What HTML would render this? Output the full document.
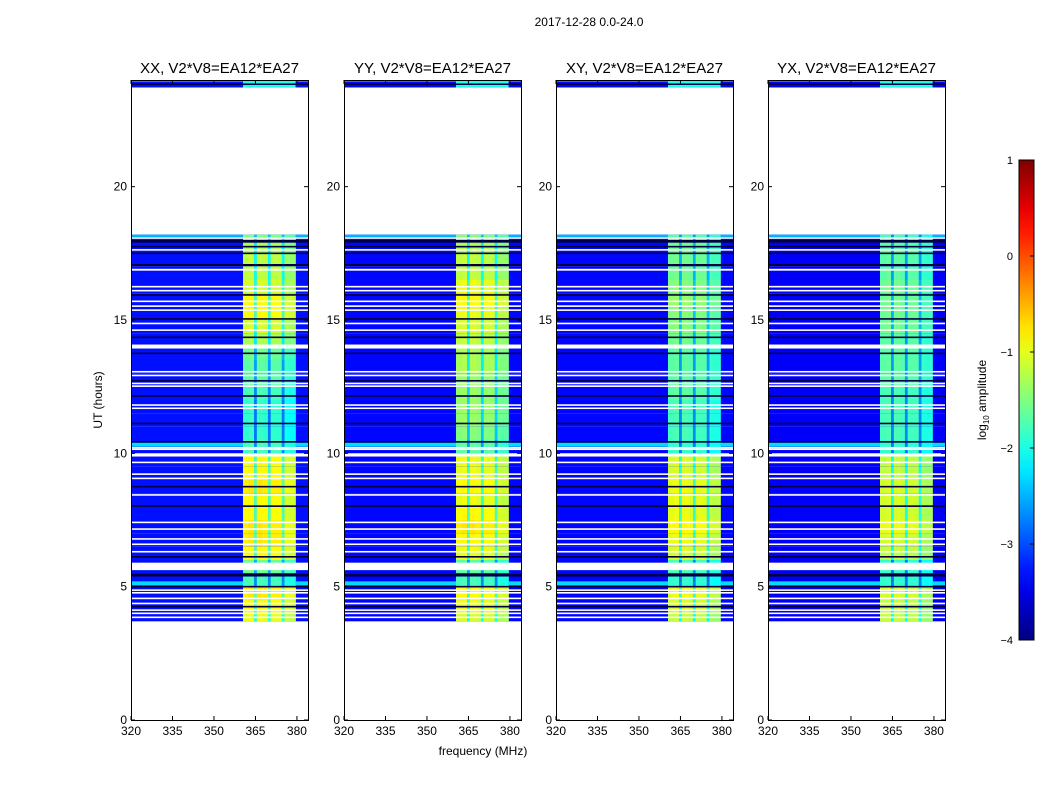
<!DOCTYPE html>
<html><head><meta charset="utf-8"><style>
body{margin:0;background:#fff}
svg text{font-family:"Liberation Sans",sans-serif;fill:#000}
</style></head><body>
<svg id="fig" width="1050" height="800" viewBox="0 0 1050 800" xmlns="http://www.w3.org/2000/svg">
<rect width="1050" height="800" fill="#fff"/>
<text x="589" y="26" font-size="12" text-anchor="middle">2017-12-28 0.0-24.0</text>
<text x="483" y="755" font-size="12" text-anchor="middle">frequency (MHz)</text>
<text x="102" y="400" font-size="12" text-anchor="middle" transform="rotate(-90 102 400)">UT (hours)</text>
<g id="panels"></g>
<g id="cbar"></g>
</svg>
<script>
const panelTitles = ["XX, V2*V8=EA12*EA27","YY, V2*V8=EA12*EA27","XY, V2*V8=EA12*EA27","YX, V2*V8=EA12*EA27"];
const xTicks = [320,335,350,365,380];
const yTicks = [0,5,10,15,20];
const cbTicks = [1,0,-1,-2,-3,-4];
const rowStarts = [3.5,4,4.5,5,5.5,6,6.5,7,7.5,8,8.5,9,9.5,10,10.5,11,11.5,12,12.5,13,13.5,14,14.5,15,15.5,16,16.5,17,17.5,18];
const bandXX = [-1.0,-0.9,-0.8,-1.8,-1.6,-0.9,-0.8,-0.8,-0.9,-0.9,-0.8,-0.9,-0.9,-1.8,-1.9,-1.9,-1.9,-1.8,-1.7,-1.7,-1.6,-1.3,-1.1,-0.9,-0.9,-1.1,-1.2,-1.2,-1.3,-1.5];
const bandYY = [-1.1,-1.0,-0.9,-1.8,-1.7,-1.0,-0.9,-0.8,-0.9,-1.0,-0.9,-1.0,-1.0,-1.7,-1.5,-1.4,-1.4,-1.4,-1.4,-1.3,-1.3,-1.2,-1.1,-1.0,-0.9,-1.0,-1.2,-1.2,-1.3,-1.5];
const bandXY = [-1.2,-1.1,-1.0,-1.9,-1.8,-1.1,-1.0,-0.9,-1.0,-1.0,-1.0,-1.1,-1.1,-1.9,-1.8,-1.8,-1.8,-1.7,-1.7,-1.7,-1.7,-1.6,-1.5,-1.5,-1.4,-1.5,-1.6,-1.6,-1.6,-1.7];
const bandYX = [-1.2,-1.2,-1.1,-1.9,-1.9,-1.2,-1.1,-1.0,-1.1,-1.1,-1.1,-1.2,-1.2,-1.9,-1.8,-1.8,-1.8,-1.8,-1.7,-1.7,-1.7,-1.7,-1.6,-1.6,-1.6,-1.6,-1.7,-1.7,-1.7,-1.8];
const bgLevel = [-3.3,-3.35,-3.35,-3.4];
const bandFreqs = [360.5,361.5,362.5,363.5,364.5,365.5,366.5,367.5,368.5,369.5,370.5,371.5,372.5,373.5,374.5,375.5,376.5,377.5,378.5];
const bandAdj = [0,0,0.05,0.05,-0.9,0.05,0.05,0,0,-0.9,0,0,0,0,-0.9,-0.15,-0.2,-0.2,-0.2];
const gapStarts = [18.05,17.6,16.85,16.22,16.07,15.67,15.49,15.34,14.84,14.59,13.93,13.03,12.89,12.59,12.49,11.78,11.66,10.19,10.13,9.88,9.63,9.19,9.03,8.41,7.38,7.13,6.76,6.56,6.28,5.62,4.84,4.74,4.53,4.34,4.09,3.97,3.82];
const gapEnds   = [18.1,17.66,16.92,16.28,16.13,15.73,15.55,15.4,14.9,14.65,14.08,13.09,12.95,12.65,12.55,11.84,11.72,10.24,10.18,10.0,9.69,9.25,9.09,8.47,7.44,7.19,6.82,6.62,6.34,5.9,4.9,4.8,4.59,4.4,4.15,4.03,3.88];
const darkStarts = [17.9,17.72,17.47,17.02,15.91,15.01,14.32,13.72,12.69,12.12,11.09,10.4,8.72,7.99,6.09,5.38,4.97,4.22,23.82];
const darkEnds   = [18.0,17.78,17.53,17.1,15.97,15.07,14.38,13.78,12.75,12.18,11.15,10.46,8.78,8.05,6.15,5.5,5.03,4.28,23.87];
const brightStarts = [10.25,5.05,18.1];
const brightEnds = [10.4,5.2,18.2];
const brightLevel = [-2.3,-2.3,-2.5];
const dataStart = 3.7, dataEnd = 18.2, topStart = 23.72, topEnd = 23.95;

const NS="http://www.w3.org/2000/svg";
const lefts=[131,344,556,768], PW=177, TOP=80, BOT=720;
function xS(p,f){return lefts[p]+(f-320)*PW/64;}
function yS(h){return BOT-h*(BOT-TOP)/24;}
function clamp(v){return Math.max(0,Math.min(1,v));}
function jet(v){const t=clamp((v+4)/5);
 const r=clamp(1.5-Math.abs(4*t-3)),g=clamp(1.5-Math.abs(4*t-2)),b=clamp(1.5-Math.abs(4*t-1));
 return `rgb(${Math.round(r*255)},${Math.round(g*255)},${Math.round(b*255)})`;}
function mk(tag,attrs,parent){const e=document.createElementNS(NS,tag);for(const k in attrs)e.setAttribute(k,attrs[k]);parent.appendChild(e);return e;}
const bands=[bandXX,bandYY,bandXY,bandYX];
const root=document.getElementById('panels');
for(let p=0;p<4;p++){
 const g=mk('g',{},root);
 
 
 const hm=mk('g',{},g);
 
 
 rowStarts.forEach((h0,i)=>{
  const a=Math.max(h0,dataStart), b=Math.min(h0+0.5,dataEnd); if(b<=a) return;
  const y=yS(b), hh=yS(a)-yS(b);
  const r=mk('rect',{x:lefts[p],y:y,width:PW,height:hh,fill:jet(bgLevel[p])},hm);
  
  
  bandFreqs.forEach((f,j)=>{
   const c=mk('rect',{x:xS(p,f),y:y,width:xS(p,f+1)-xS(p,f)+0.3,height:hh,fill:jet(bands[p][i]+bandAdj[j])},hm);
   
   
  });
 });
 const ts=mk('rect',{x:lefts[p],y:yS(topEnd),width:PW,height:yS(topStart)-yS(topEnd),fill:jet(bgLevel[p])},hm);
 
 
 const tb=mk('rect',{x:xS(p,360.5),y:yS(topEnd),width:xS(p,379.5)-xS(p,360.5),height:yS(topStart)-yS(topEnd),fill:jet(-2.0)},hm);
 
 
 brightStarts.forEach((s,k)=>{
  const r=mk('rect',{x:lefts[p],y:yS(brightEnds[k]),width:xS(p,360.5)-lefts[p],height:yS(s)-yS(brightEnds[k]),fill:jet(brightLevel[k])},hm);
  
  
  const r2=mk('rect',{x:xS(p,379.5),y:yS(brightEnds[k]),width:lefts[p]+PW-xS(p,379.5),height:yS(s)-yS(brightEnds[k]),fill:jet(brightLevel[k])},hm);
  
  
 });
 darkStarts.forEach((s,k)=>{
  const r=mk('rect',{x:lefts[p],y:yS(darkEnds[k]),width:PW,height:Math.max(1.5,yS(s)-yS(darkEnds[k])),fill:'#000040'},hm);
  
  
 });
 gapStarts.forEach((s,k)=>{
  const r=mk('rect',{x:lefts[p],y:yS(gapEnds[k]),width:PW,height:Math.max(1.5,yS(s)-yS(gapEnds[k])),fill:'#fff'},hm);
  
  
 });
 const fr=mk('rect',{x:lefts[p]+0.5,y:TOP+0.5,width:PW,height:BOT-TOP,fill:'none',stroke:'#000','stroke-width':1},g);
 
 
 const t=mk('text',{x:lefts[p]+PW/2,y:73,'font-size':15,'text-anchor':'middle'},g);
 t.textContent=panelTitles[p];
 
 
 xTicks.forEach(v=>{const x=xS(p,v);
  mk('line',{x1:x,x2:x,y1:BOT,y2:BOT-4,stroke:'#000'},g);
  mk('line',{x1:x,x2:x,y1:TOP,y2:TOP+4,stroke:'#000'},g);
  const l=mk('text',{x:x,y:BOT+15,'font-size':12,'text-anchor':'middle'},g);l.textContent=v;
  
  });
 yTicks.forEach(v=>{const y=yS(v);
  mk('line',{x1:lefts[p],x2:lefts[p]+4,y1:y,y2:y,stroke:'#000'},g);
  mk('line',{x1:lefts[p]+PW,x2:lefts[p]+PW-4,y1:y,y2:y,stroke:'#000'},g);
  const l=mk('text',{x:lefts[p]-4,y:y+4,'font-size':12,'text-anchor':'end'},g);l.textContent=v;
  
  });
}
const cb=document.getElementById('cbar');
const defs=mk('defs',{},cb);
const lg=mk('linearGradient',{id:'jetg',x1:0,y1:1,x2:0,y2:0},defs);
for(let i=0;i<=20;i++){mk('stop',{offset:i/20,'stop-color':jet(-4+5*i/20)},lg);}
const cbTop=160,cbBot=640,cbX=1019,cbW=15;
mk('rect',{x:cbX,y:cbTop,width:cbW,height:cbBot-cbTop,fill:'url(#jetg)',stroke:'#000'},cb);
cbTicks.forEach(v=>{const y=cbBot-(v+4)/5*(cbBot-cbTop);
 mk('line',{x1:cbX+cbW,x2:cbX+cbW-4,y1:y,y2:y,stroke:'#000'},cb);
 const l=mk('text',{x:1013,y:y+4,'font-size':11,'text-anchor':'end'},cb);
 l.textContent=v<0?'\u2212'+(-v):String(v);
 
 });
const cl=mk('text',{x:986,y:400,'font-size':12,'text-anchor':'middle',transform:'rotate(-90 986 400)'},cb);
cl.innerHTML='log<tspan font-size="8" dy="3">10</tspan><tspan dy="-3"> amplitude</tspan>';


</script>
</body></html>
